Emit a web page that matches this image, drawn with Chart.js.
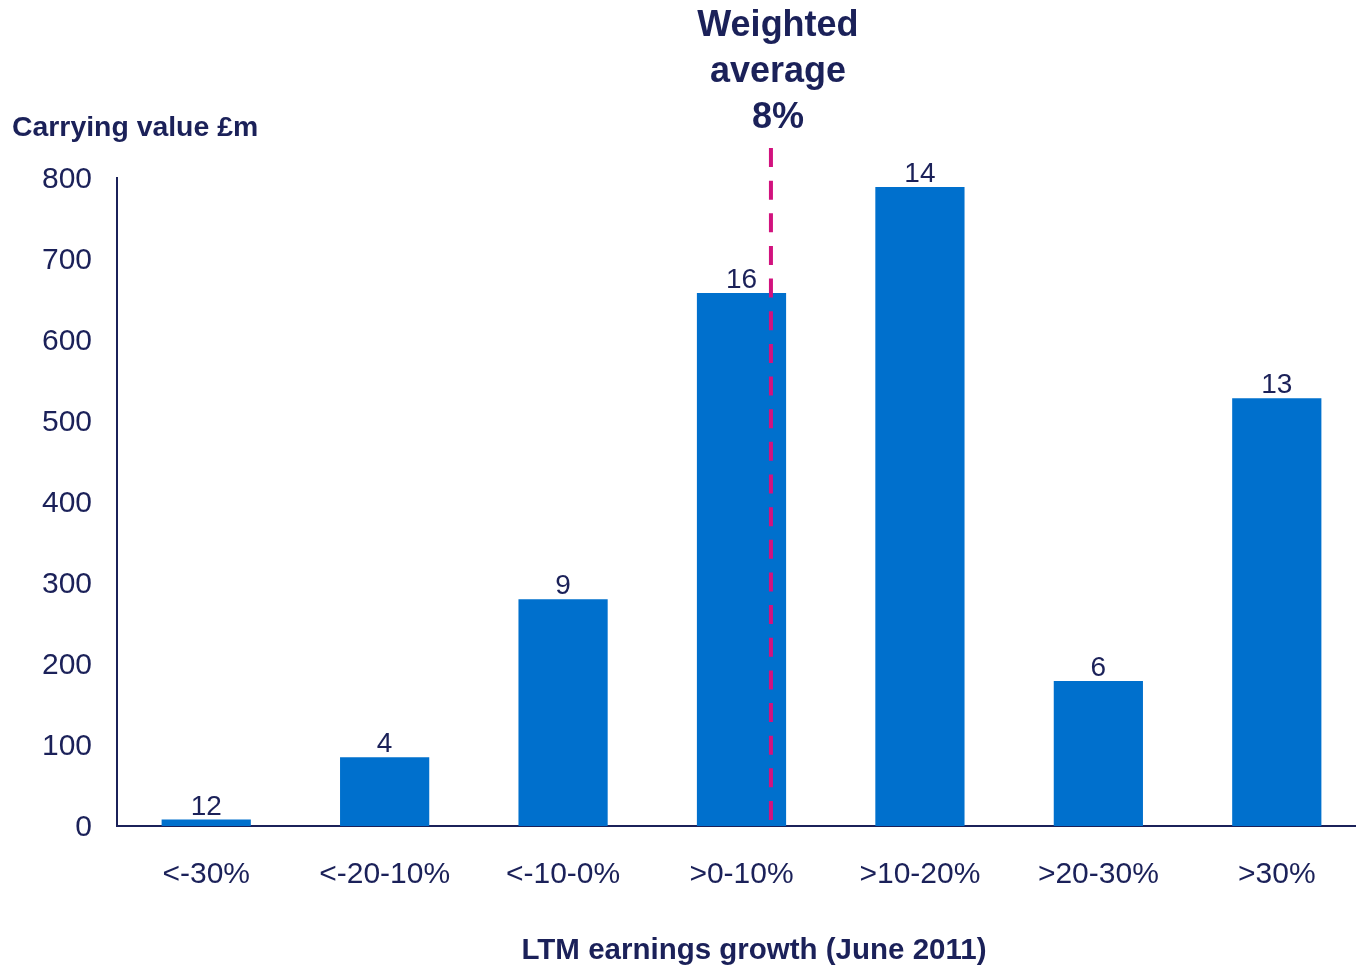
<!DOCTYPE html>
<html>
<head>
<meta charset="utf-8">
<title>Carrying value by LTM earnings growth</title>
<script src="https://cdn.jsdelivr.net/npm/chart.js@4/dist/chart.umd.min.js"></script>
<style>
  html, body { margin: 0; padding: 0; background: #fff; overflow: hidden; }
  #wrap { width: 1356px; height: 967px; overflow: hidden; }
</style>
</head>
<body>
<!-- canvas is a bit wider than the frame: the plot runs past the right edge -->
<div id="wrap"><canvas id="growthChart" width="1366" height="967"></canvas></div>
<script>
/* Carrying value (£m) per fascia di crescita LTM, con media ponderata */
const categories = ['<-30%', '<-20-10%', '<-10-0%', '>0-10%', '>10-20%', '>20-30%', '>30%'];
const carryingValue = [8, 85, 280, 658, 789, 179, 528];
const companyCount = [12, 4, 9, 16, 14, 6, 13];
const yTicks = [0, 100, 200, 300, 400, 500, 600, 700, 800];
const avgLabel = ['Weighted', 'average', '8%'];
const avgPosition = 3.165; // category index + fraction where the 8% average falls

const NAVY = '#1b2159';
const BLUE = '#0070cd';
const PINK = '#d2127e';
const FONT = '"Liberation Sans", Arial, sans-serif';

const annotations = {
  id: 'annotations',
  afterDatasetsDraw(chart) {
    const { ctx, chartArea, scales } = chart;
    ctx.save();
    ctx.fillStyle = NAVY;

    // count of companies above each bar
    ctx.font = `28px ${FONT}`;
    ctx.textAlign = 'center';
    ctx.textBaseline = 'alphabetic';
    chart.getDatasetMeta(0).data.forEach((bar, i) => {
      ctx.fillText(String(companyCount[i]), bar.x, bar.y - 5);
    });

    // y axis title
    ctx.font = `bold 28.4px ${FONT}`;
    ctx.textAlign = 'left';
    ctx.fillText('Carrying value £m', 12, chartArea.top - 42);

    // x axis title
    ctx.textAlign = 'center';
    ctx.font = `bold 29.5px ${FONT}`;
    ctx.fillText('LTM earnings growth (June 2011)', 754, chart.height - 8);

    // weighted average marker
    const x0 = scales.x.getPixelForValue(Math.floor(avgPosition));
    const step = scales.x.getPixelForValue(1) - scales.x.getPixelForValue(0);
    const xAvg = x0 + (avgPosition - Math.floor(avgPosition)) * step;
    ctx.strokeStyle = PINK;
    ctx.lineWidth = 4;
    ctx.setLineDash([19, 13.65]);
    ctx.beginPath();
    ctx.moveTo(xAvg, chartArea.top - 30);
    ctx.lineTo(xAvg, chartArea.bottom - 6);
    ctx.stroke();

    ctx.font = `bold 36px ${FONT}`;
    avgLabel.forEach((line, i) => ctx.fillText(line, xAvg + 7, 36 + i * 46));
    ctx.restore();
  }
};

new Chart(document.getElementById('growthChart'), {
  type: 'bar',
  data: {
    labels: categories,
    datasets: [{
      data: carryingValue,
      backgroundColor: BLUE,
      categoryPercentage: 1,
      barPercentage: 0.5
    }]
  },
  options: {
    responsive: false,
    animation: false,
    layout: { padding: { top: 178, right: 0, bottom: 0, left: 0 } },
    plugins: { legend: { display: false }, tooltip: { enabled: false } },
    scales: {
      x: {
        grid: { display: false, drawTicks: false },
        border: { display: true, color: NAVY, width: 2 },
        ticks: { color: NAVY, font: { family: FONT, size: 30 }, padding: 31 },
        afterFit: s => { s.height = 141; }
      },
      y: {
        min: 0,
        max: 800,
        afterBuildTicks: s => { s.ticks = yTicks.map(v => ({ value: v })); },
        grid: { display: false, drawTicks: false },
        border: { display: true, color: NAVY, width: 2 },
        ticks: { color: NAVY, font: { family: FONT, size: 30 }, padding: 25, labelOffset: 2 },
        afterFit: s => { s.width = 117; }
      }
    }
  },
  plugins: [annotations]
});
</script>
</body>
</html>
